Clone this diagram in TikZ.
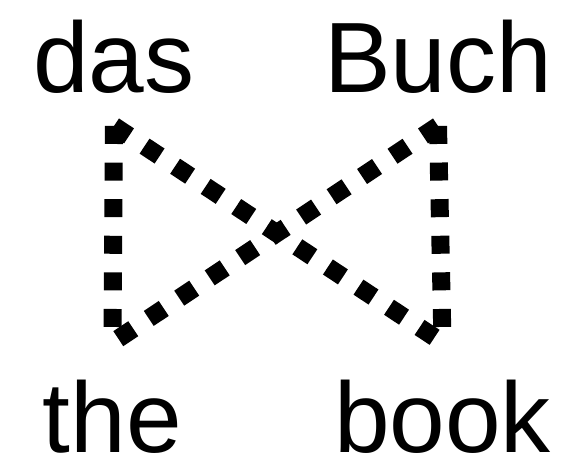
\documentclass[tikz,border=0pt]{standalone}
\usepackage{fontspec}
\setmainfont{Liberation Sans}
\usetikzlibrary{positioning}

\begin{document}
\begin{tikzpicture}[
                x=0.5pt, y=-0.5pt,
                    word/.style = {inner sep=0pt, outer ysep=16.5pt, anchor=base, font=\fontsize{50}{58}\selectfont},
                    low word/.style = {word, outer ysep=18.5pt},
                    align line/.style = {line width=9pt, line cap=butt, dash pattern=on 9pt off 9.3pt}
                ]

                \useasboundingbox (0,0) rectangle (569,471);

                \node[word] (das) at (114,92) {das};
                \node[word] (buch) at (438,92) {Buch};
                \node[low word] (the) at (112.5,452) {the};
                \node[low word] (book) at (442.5,452) {book};

                \draw[align line] (das.south) -- (the.north);
                \draw[align line] (das.south) -- (book.north);
                \draw[align line] (buch.south) -- (the.north);
                \draw[align line] (buch.south) -- (book.north);

            \end{tikzpicture}
\end{document}
